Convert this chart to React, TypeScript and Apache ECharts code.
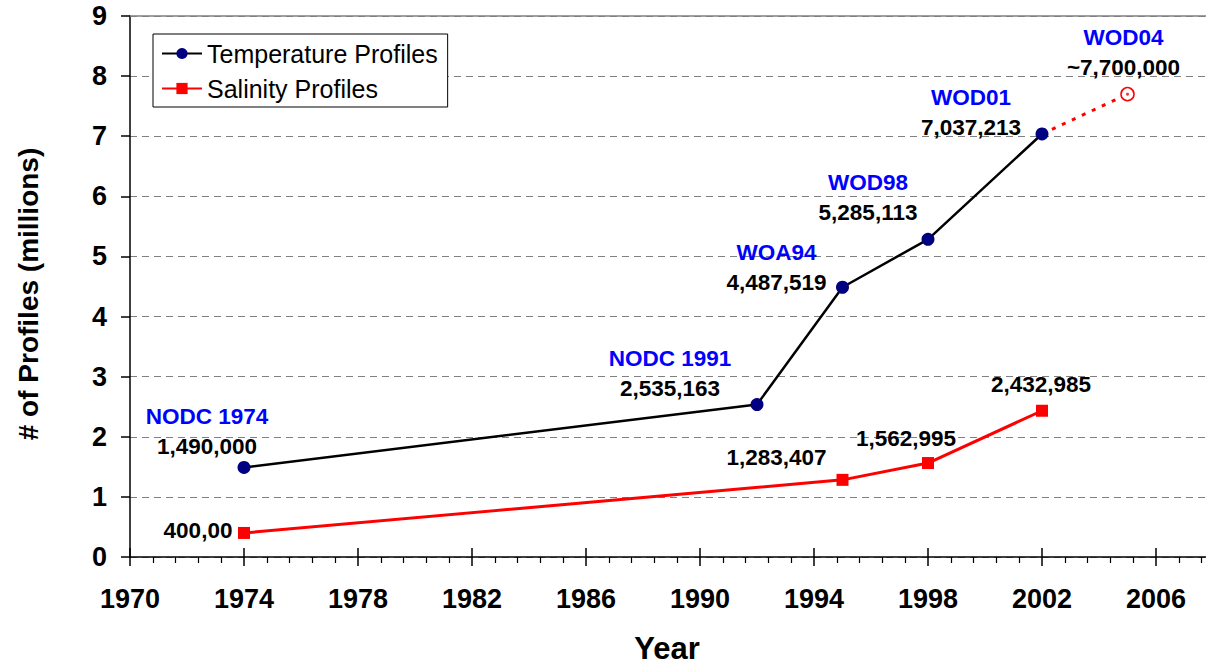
import React, { useEffect, useRef } from "react";
import * as echarts from "echarts";

const tempYears = [1974, 1992, 1995, 1998, 2002];
const tempValues = [1.49, 2.535163, 4.487519, 5.285113, 7.037213];
const tempNames = ["NODC 1974", "NODC 1991", "WOA94", "WOD98", "WOD01"];
const tempLabels = ["1,490,000", "2,535,163", "4,487,519", "5,285,113", "7,037,213"];

const salYears = [1974, 1995, 1998, 2002];
const salValues = [0.4, 1.283407, 1.562995, 2.432985];
const salLabels = ["400,00", "1,283,407", "1,562,995", "2,432,985"];

const projYear = 2005;
const projValue = 7.7;
const projName = "WOD04";
const projLabel = "~7,700,000";

const xTickMin = 1970;
const xTickMax = 2008;
const xTickStep = 4;
const yTickMin = 0;
const yTickMax = 9;
const yTickStep = 1;

const xTitle = "Year";
const yTitle = "# of Profiles (millions)";

// label placement (style): offset of value line centre from point
const tempOffsets = [[-37, -21], [-87, -16], [-66, -5], [-60, -27], [-71, -6]];
const salOffsets = [[-46, -2], [-66, -22], [-22, -25], [-1, -26]];
const projOffset = [-4, -27];

const FONT = "'Liberation Sans', Arial, sans-serif";

export default function App() {
  const ref = useRef<HTMLDivElement>(null);
  useEffect(() => {
    document.body.style.margin = "0";
    document.body.style.overflow = "hidden";
    document.documentElement.style.overflow = "hidden";
    const chart = echarts.init(ref.current!, null, { renderer: "svg" });
    const rich = {
      n: { color: "#0000FF", fontSize: 22.5, fontWeight: "bold", lineHeight: 30, fontFamily: FONT, align: "center" },
      v: { color: "#000000", fontSize: 22.5, fontWeight: "bold", lineHeight: 30, fontFamily: FONT, align: "center" },
    };
    const option: any = {
      animation: false,
      backgroundColor: "#ffffff",
      grid: { left: 130, top: 16, right: 7, bottom: 107, containLabel: false },
      legend: {
        data: ["Temperature Profiles", "Salinity Profiles"],
        orient: "vertical",
        left: 153,
        top: 34,
        padding: [7, 10, 6, 8],
        itemWidth: 40,
        itemHeight: 14,
        itemGap: 10,
        backgroundColor: "#ffffff",
        borderColor: "#000000",
        borderWidth: 1,
        borderRadius: 0,
        textStyle: { fontSize: 25, fontFamily: FONT, color: "#000" },
      },
      graphic: [
        {
          type: "text",
          x: 28,
          y: 294,
          rotation: Math.PI / 2,
          style: {
            text: yTitle,
            fontSize: 28,
            fontWeight: "bold",
            fontFamily: FONT,
            fill: "#000",
            align: "center",
            verticalAlign: "middle",
          },
        },
        {
          type: "text",
          x: 667,
          y: 648,
          style: {
            text: xTitle,
            fontSize: 31,
            lineHeight: 30,
            fontWeight: "bold",
            fontFamily: FONT,
            fill: "#000",
            align: "center",
            verticalAlign: "middle",
          },
        },
      ],
      xAxis: [
        {
          type: "value",
          min: xTickMin,
          max: xTickMax,
          interval: xTickStep,
          position: "bottom",
          axisLine: { show: true, onZero: false, lineStyle: { color: "#000", width: 1.5 } },
          axisTick: { show: true, inside: false, length: 9, lineStyle: { color: "#000", width: 1.5 } },
          minorTick: { show: true, splitNumber: 5, length: 6, lineStyle: { color: "#000", width: 1.2 } },
          splitLine: { show: false },
          axisLabel: {
            margin: 28,
            fontSize: 27,
            fontWeight: "bold",
            fontFamily: FONT,
            color: "#000",
            showMaxLabel: false,
            formatter: (v: number) => String(v),
          },
        },
        {
          type: "value",
          min: xTickMin,
          max: xTickMax,
          interval: xTickStep,
          position: "bottom",
          axisLine: { show: false, onZero: false },
          axisTick: { show: true, inside: true, length: 9, lineStyle: { color: "#000", width: 1.5 } },
          axisLabel: { show: false },
          splitLine: { show: false },
        },
        {
          type: "value",
          min: xTickMin,
          max: xTickMax,
          interval: xTickStep,
          position: "top",
          axisLine: { show: true, onZero: false, lineStyle: { color: "#808080", width: 1.5 } },
          axisTick: { show: false },
          axisLabel: { show: false },
          splitLine: { show: false },
        },
      ],
      yAxis: {
        type: "value",
        min: yTickMin,
        max: yTickMax,
        interval: yTickStep,
        axisLine: { show: true, onZero: false, lineStyle: { color: "#000", width: 1.5 } },
        axisTick: { show: true, inside: false, length: 9, lineStyle: { color: "#000", width: 1.5 } },
        splitLine: { show: true, lineStyle: { color: "#808080", width: 1.2, type: [7, 5] } },
        axisLabel: { margin: 23, fontSize: 27, fontWeight: "bold", fontFamily: FONT, color: "#000" },
      },
      series: [
        {
          name: "projection",
          type: "line",
          xAxisIndex: 0,
          data: [
            { value: [tempYears[tempYears.length - 1], tempValues[tempValues.length - 1]], symbol: "none", label: { show: false } },
            {
              value: [projYear, projValue],
              label: { show: true, offset: [projOffset[0], projOffset[1] - 15] },
            },
          ],
          symbol: "circle",
          symbolSize: 13,
          showAllSymbol: true,
          itemStyle: { color: "#ffffff", borderColor: "#FF0000", borderWidth: 1.5 },
          lineStyle: { color: "#FF0000", width: 3, type: [4, 7] },
          label: {
            position: "inside",
            formatter: () => `{n|${projName}}\n{v|${projLabel}}`,
            rich,
          },
          z: 2,
        },
        {
          name: "projDot",
          type: "scatter",
          data: [[projYear, projValue]],
          symbol: "circle",
          symbolSize: 3,
          itemStyle: { color: "#FF0000" },
          silent: true,
          z: 3,
        },
        {
          name: "Temperature Profiles",
          type: "line",
          data: tempYears.map((y, i) => ({
            value: [y, tempValues[i]],
            label: { offset: [tempOffsets[i][0], tempOffsets[i][1] - 15] },
          })),
          symbol: "circle",
          symbolSize: 13,
          showAllSymbol: true,
          itemStyle: { color: "#000080" },
          lineStyle: { color: "#000000", width: 2.5 },
          label: {
            show: true,
            position: "inside",
            formatter: (p: any) => `{n|${tempNames[p.dataIndex]}}\n{v|${tempLabels[p.dataIndex]}}`,
            rich,
          },
          z: 4,
        },
        {
          name: "Salinity Profiles",
          type: "line",
          data: salYears.map((y, i) => ({
            value: [y, salValues[i]],
            label: { offset: salOffsets[i] },
          })),
          symbol: "rect",
          symbolSize: 12,
          showAllSymbol: true,
          itemStyle: { color: "#FF0000" },
          lineStyle: { color: "#FF0000", width: 3 },
          label: {
            show: true,
            position: "inside",
            formatter: (p: any) => salLabels[p.dataIndex],
            color: "#000",
            fontSize: 22.5,
            fontWeight: "bold",
            fontFamily: FONT,
          },
          z: 4,
        },
      ],
    };
    chart.setOption(option);
    return () => chart.dispose();
  }, []);
  return <div ref={ref} style={{ position: "fixed", left: 0, top: 0, width: 1220, height: 664, overflow: "hidden" }} />;
}
